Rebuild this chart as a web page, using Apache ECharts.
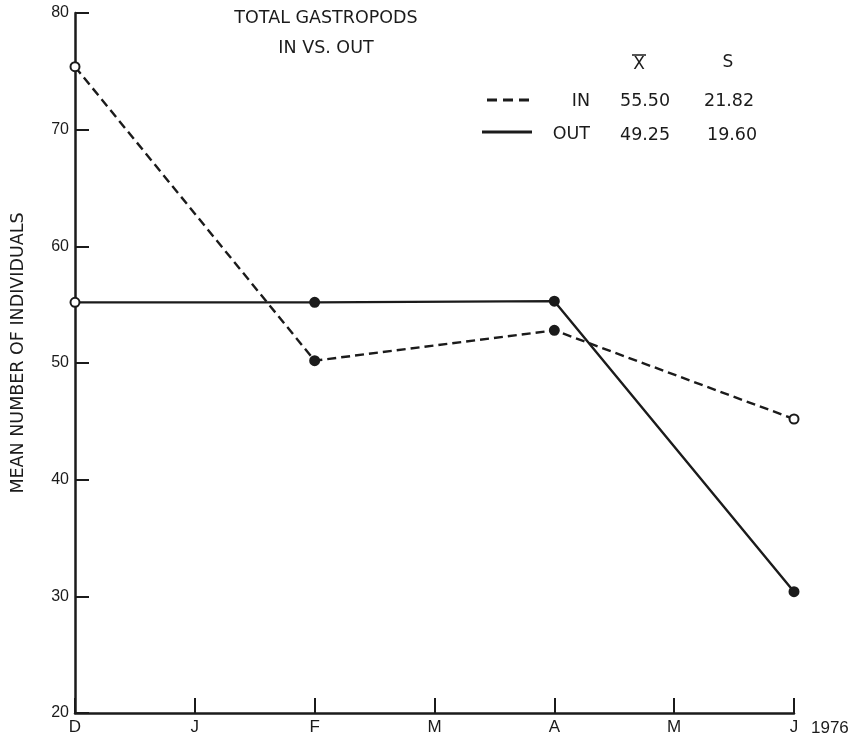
<!DOCTYPE html>
<html>
<head>
<meta charset="utf-8">
<script src="https://cdn.jsdelivr.net/npm/echarts@6/dist/echarts.min.js"></script>
<style>
html,body{margin:0;padding:0;background:#fff;}
#chart{width:859px;height:740px;}
</style>
</head>
<body>
<div id="chart"></div>
<script>
// ---- data ----
const months = ['D', 'J', 'F', 'M', 'A', 'M', 'J'];
const yTicks = [20, 30, 40, 50, 60, 70, 80];
const inValues  = [75.4, null, 50.2, null, 52.8, null, 45.2];
const outValues = [55.2, null, 55.2, null, 55.3, null, 30.4];
const statsHeader = ['X', 'S'];
const statsIn  = ['IN', '55.50', '21.82'];
const statsOut = ['OUT', '49.25', '19.60'];
const titleLines = ['TOTAL GASTROPODS', 'IN VS. OUT'];
const yName = 'MEAN NUMBER OF INDIVIDUALS';
const yearLabel = '1976';

const INK = '#1b1b1b';
const FONT = 'DejaVu Sans';
const TICKFONT = 'Liberation Sans';
const inHollow = [0, 6];
const outHollow = [0];

const chart = echarts.init(document.getElementById('chart'), null, {renderer: 'canvas'});

function txt(x, y, s, align, size) {
  return {type: 'text', x: x, y: y, style: {text: s, fill: INK, font: (size || 17) + 'px "' + FONT + '"', textAlign: align || 'left', textVerticalAlign: 'middle'}};
}

chart.setOption({
  animation: false,
  backgroundColor: '#fff',
  title: {
    text: titleLines.join('\n'),
    left: 326, top: 3, padding: 0, textAlign: 'center',
    textStyle: {color: INK, fontFamily: FONT, fontSize: 17.5, fontWeight: 'normal', lineHeight: 30}
  },
  grid: {left: 75, right: 65, top: 13, bottom: 27, containLabel: false, outerBoundsMode: 'none'},
  xAxis: {
    type: 'category', data: months, boundaryGap: false,
    name: yearLabel, nameLocation: 'end', nameGap: 17,
    nameTextStyle: {color: INK, fontFamily: TICKFONT, fontSize: 17, verticalAlign: 'top', align: 'left', padding: [7, 0, 0, 0]},
    axisLine: {lineStyle: {color: INK, width: 2.5}},
    axisTick: {inside: true, length: 15, alignWithLabel: true, lineStyle: {color: INK, width: 2}},
    axisLabel: {color: INK, fontFamily: TICKFONT, fontSize: 17, margin: 6, interval: 0},
    splitLine: {show: false}
  },
  yAxis: {
    type: 'value', min: 20, max: 80, interval: 10,
    name: yName, nameLocation: 'middle', nameGap: 48, nameRotate: 90,
    nameTextStyle: {color: INK, fontFamily: FONT, fontSize: 17.5, padding: [0, 0, 0, 20]},
    axisLine: {show: true, lineStyle: {color: INK, width: 2.5}},
    axisTick: {show: true, inside: true, length: 14, lineStyle: {color: INK, width: 2}},
    axisLabel: {color: INK, fontFamily: TICKFONT, fontSize: 16, margin: 6,
      formatter: function (v) { return yTicks.indexOf(v) >= 0 ? String(v) : ''; }},
    splitLine: {show: false}
  },
  series: [
    {
      name: 'IN', type: 'line', data: inValues, connectNulls: true,
      symbol: 'circle', symbolSize: 9,
      lineStyle: {color: INK, width: 2.4, type: [9, 5]},
      itemStyle: {color: function (p) { return inHollow.indexOf(p.dataIndex) >= 0 ? '#fff' : INK; }, borderColor: INK, borderWidth: 2},
      z: 3
    },
    {
      name: 'OUT', type: 'line', data: outValues, connectNulls: true,
      symbol: 'circle', symbolSize: 9,
      lineStyle: {color: INK, width: 2.4, type: 'solid'},
      itemStyle: {color: function (p) { return outHollow.indexOf(p.dataIndex) >= 0 ? '#fff' : INK; }, borderColor: INK, borderWidth: 2},
      z: 4
    }
  ],
  graphic: [
    txt(639, 65, statsHeader[0], 'center', 17),
    {type: 'line', shape: {x1: 632, y1: 55, x2: 646, y2: 55}, style: {stroke: INK, lineWidth: 1.5}},
    txt(728, 63, statsHeader[1], 'center', 17),
    {type: 'line', shape: {x1: 487, y1: 100, x2: 531, y2: 100}, style: {stroke: INK, lineWidth: 3, lineDash: [10, 6]}},
    txt(590, 101, statsIn[0], 'right', 17.5),
    txt(620, 101, statsIn[1], 'left', 17.5),
    txt(704, 101, statsIn[2], 'left', 17.5),
    {type: 'line', shape: {x1: 482, y1: 132, x2: 532, y2: 132}, style: {stroke: INK, lineWidth: 3}},
    txt(590, 134, statsOut[0], 'right', 17.5),
    txt(620, 135, statsOut[1], 'left', 17.5),
    txt(707, 135, statsOut[2], 'left', 17.5)
  ]
});
</script>
</body>
</html>
